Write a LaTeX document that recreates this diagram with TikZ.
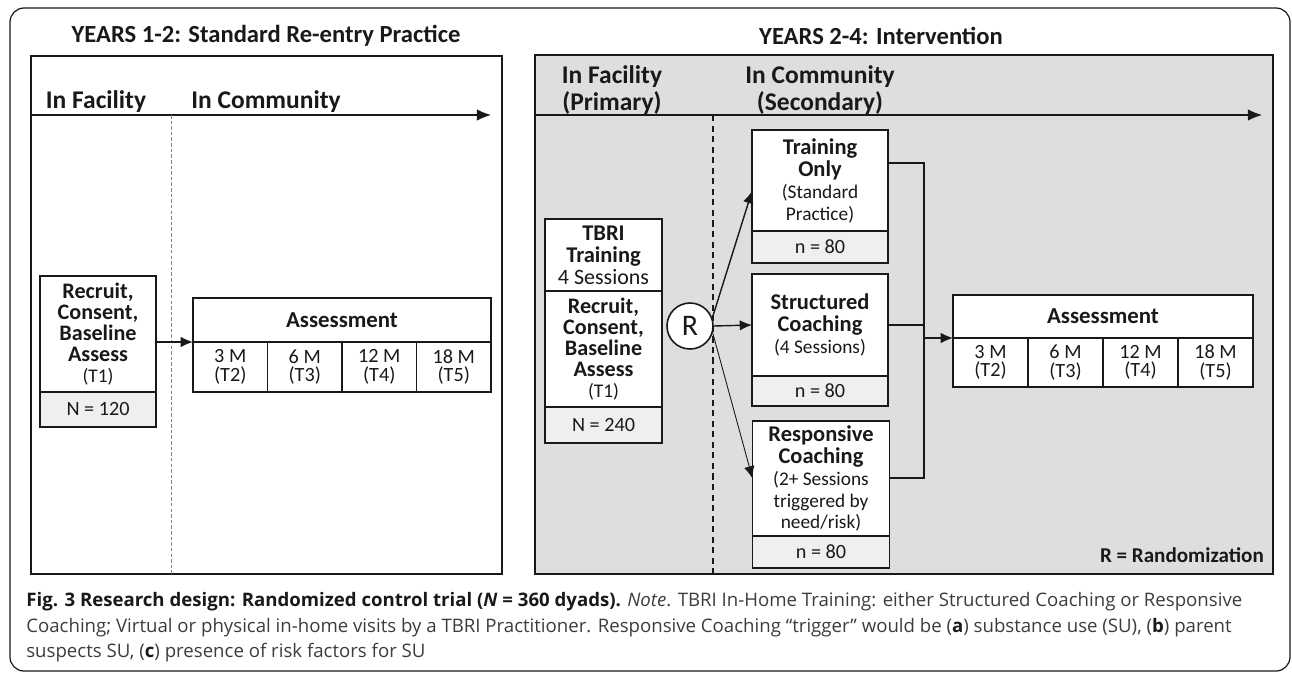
\documentclass[tikz,border=0pt]{standalone}
\usepackage{fontspec}
\setmainfont{Carlito}
\newfontfamily\capfont{Open Sans}
\usetikzlibrary{arrows.meta, positioning}
\definecolor{panelgray}{RGB}{222,222,222}
\definecolor{cellgray}{RGB}{239,239,239}
\definecolor{ink}{RGB}{25,25,25}
\definecolor{capgray}{RGB}{60,60,60}
\newcommand\subtxt[1]{{\mdseries\fontsize{11}{10.5}\selectfont #1}}

\begin{document}
\begin{tikzpicture}[x=0.02cm, y=-0.02cm,
    panel/.style={draw=ink, line width=0.9pt, inner sep=0pt, outer sep=0pt},
    bx/.style={draw=ink, fill=white, line width=0.9pt, align=center, inner sep=1pt, outer sep=0pt,
               text=ink, font=\fontsize{12.8}{12.5}\selectfont\bfseries},
    rec/.style={bx, font=\fontsize{12.6}{11.9}\selectfont\bfseries},
    nbx/.style={bx, fill=cellgray, font=\fontsize{11.5}{11}\selectfont},
    tbx/.style={bx, font=\fontsize{11.5}{10.5}\selectfont},
    asm/.style={bx, font=\fontsize{13}{14}\selectfont\bfseries},
    head/.style={font=\fontsize{14}{15}\selectfont\bfseries, text=ink},
    zone/.style={font=\fontsize{14.5}{15.8}\selectfont\bfseries, text=ink, align=center},
    ar/.style={-{Latex[length=7pt,width=6pt]}, line width=0.8pt, draw=ink},
    tl/.style={-{Latex[length=8pt,width=6.5pt]}, line width=0.6pt, draw=ink},
    ln/.style={line width=0.8pt, draw=ink}]
  \useasboundingbox (0,0) rectangle (1292,674);
  \draw[line width=0.7pt, rounded corners=8pt, draw=ink] (10,8) rectangle (1290,671);

  % years 1-2
  \node[head] (lhead) at (266,36) {YEARS 1-2: Standard Re-entry Practice};
  \node[panel, minimum width=9.42cm, minimum height=10.36cm] (lpanel) at (266.5,315) {};
  \node[zone] (lfac) at (96,102) {In Facility};
  \node[zone] (lcom) at (266,102) {In Community};
  \coordinate (lend) at (491,115);
  \draw[tl] (lpanel.west |- lend) -- (lend);
  \coordinate (lsplit) at (171,115);
  \draw[line width=0.5pt, draw=gray, dash pattern=on 2pt off 1.2pt] (lsplit) -- (lsplit |- lpanel.south);

  \node[rec, minimum width=2.32cm, minimum height=2.32cm] (lrec) at (98,334)
    {Recruit,\\Consent,\\Baseline\\Assess\\\subtxt{(T1)}};
  \node[nbx, minimum width=2.32cm, minimum height=0.7cm, below=0pt of lrec] (lnum) {N = 120};

  \node[asm, minimum width=5.96cm, minimum height=0.88cm] (lasm) at (342,320) {Assessment};
  \foreach \m/\t [count=\i] in {3 M/T2, 6 M/T3, 12 M/T4, 18 M/T5}
    \node[tbx, minimum width=1.49cm, minimum height=1cm, anchor=north west]
      (lc\i) at ({193+74.5*(\i-1)},342) {\m\\(\t)};
  \draw[ar] (lrec.east |- lasm.south west) -- (lasm.south west);

  % years 2-4
  \node[head] (rhead) at (881,36) {YEARS 2-4: Intervention};
  \node[panel, fill=panelgray, minimum width=14.76cm, minimum height=10.38cm] (rpanel) at (904,314.5) {};
  \node[zone] (rfac) at (612,90) {In Facility\\(Primary)};
  \node[zone] (rcom) at (820,90) {In Community\\(Secondary)};
  \coordinate (rend) at (1262,115);
  \draw[tl] (rpanel.west |- rend) -- (rend);
  \coordinate (rsplit) at (713,115);
  \draw[line width=0.8pt, draw=ink, dash pattern=on 3.5pt off 2.5pt] (rsplit) -- (rsplit |- rpanel.south);

  \node[bx, minimum width=2.34cm, minimum height=1.44cm] (tbri) at (603.5,255)
    {TBRI\\Training\\{\mdseries\fontsize{12.5}{12}\selectfont 4 Sessions}};
  \node[rec, minimum width=2.34cm, minimum height=2.32cm, below=0pt of tbri] (rrec)
    {Recruit,\\Consent,\\Baseline\\Assess\\\subtxt{(T1)}};
  \node[nbx, minimum width=2.34cm, minimum height=0.72cm, below=0pt of rrec] (rnum) {N = 240};

  \node[circle, draw=ink, fill=white, line width=0.9pt, minimum size=0.92cm, inner sep=0pt,
        font=\fontsize{17}{17}\selectfont, text=ink] (rand) at (690,326) {R};

  \node[bx, minimum width=2.72cm, minimum height=2.02cm] (train) at (820,180.5)
    {Training\\Only\\\subtxt{(Standard}\\\subtxt{Practice)}};
  \node[nbx, minimum width=2.72cm, minimum height=0.64cm, below=0pt of train] (trainn) {n = 80};
  \node[bx, minimum width=2.72cm, minimum height=2.04cm] (struct) at (820,325)
    {Structured\\Coaching\\\subtxt{(4 Sessions)}};
  \node[nbx, minimum width=2.72cm, minimum height=0.6cm, below=0pt of struct] (structn) {n = 80};
  \node[bx, minimum width=2.74cm, minimum height=2.3cm] (resp) at (821,478.5)
    {Responsive\\Coaching\\\subtxt{(2+ Sessions}\\\subtxt{triggered by}\\\subtxt{need/risk)}};
  \node[nbx, minimum width=2.74cm, minimum height=0.64cm, below=0pt of resp] (respn) {n = 80};

  \draw[ar] (rand.20) -- ([yshift=-0.21cm]train.west);
  \draw[ar] (rand.east) -- (struct.west);
  \draw[ar, line width=0.5pt] (rand.-17) -- (resp.west);

  \node[asm, minimum width=6cm, minimum height=0.86cm] (rasm) at (1103,316.5) {Assessment};
  \foreach \m/\t [count=\i] in {3 M/T2, 6 M/T3, 12 M/T4, 18 M/T5}
    \node[tbx, minimum width=1.5cm, minimum height=0.98cm, anchor=north west]
      (rc\i) at ({953+75*(\i-1)},338) {\m\\(\t)};

  \coordinate (jtop) at (924,163);
  \coordinate (jbot) at (924,478);
  \draw[ln] (train.east |- jtop) -- (jtop) -- (jbot) -- (resp.east |- jbot);
  \draw[ln] (struct.east) -- (struct.east -| jtop);
  \draw[ar] (jtop |- rasm.south west) -- (rasm.south west);

  \node[font=\fontsize{12}{12}\selectfont\bfseries, text=ink, anchor=east] (rkey) at (1270,555) {R = Randomization};

  % caption
  \node[anchor=north west, align=left, inner sep=0pt, text=capgray,
        font=\capfont\fontsize{10.6}{14.6}\selectfont] (cap) at (26,592)
    {{\bfseries\color{ink}Fig. 3 Research design: Randomized control trial (\textit{N} = 360 dyads).} \textit{Note}. TBRI In-Home Training: either Structured Coaching or Responsive\\
     Coaching; Virtual or physical in-home visits by a TBRI Practitioner. Responsive Coaching “trigger” would be ({\bfseries\color{ink}a}) substance use (SU), ({\bfseries\color{ink}b}) parent\\
     suspects SU, ({\bfseries\color{ink}c}) presence of risk factors for SU};
\end{tikzpicture}
\end{document}
